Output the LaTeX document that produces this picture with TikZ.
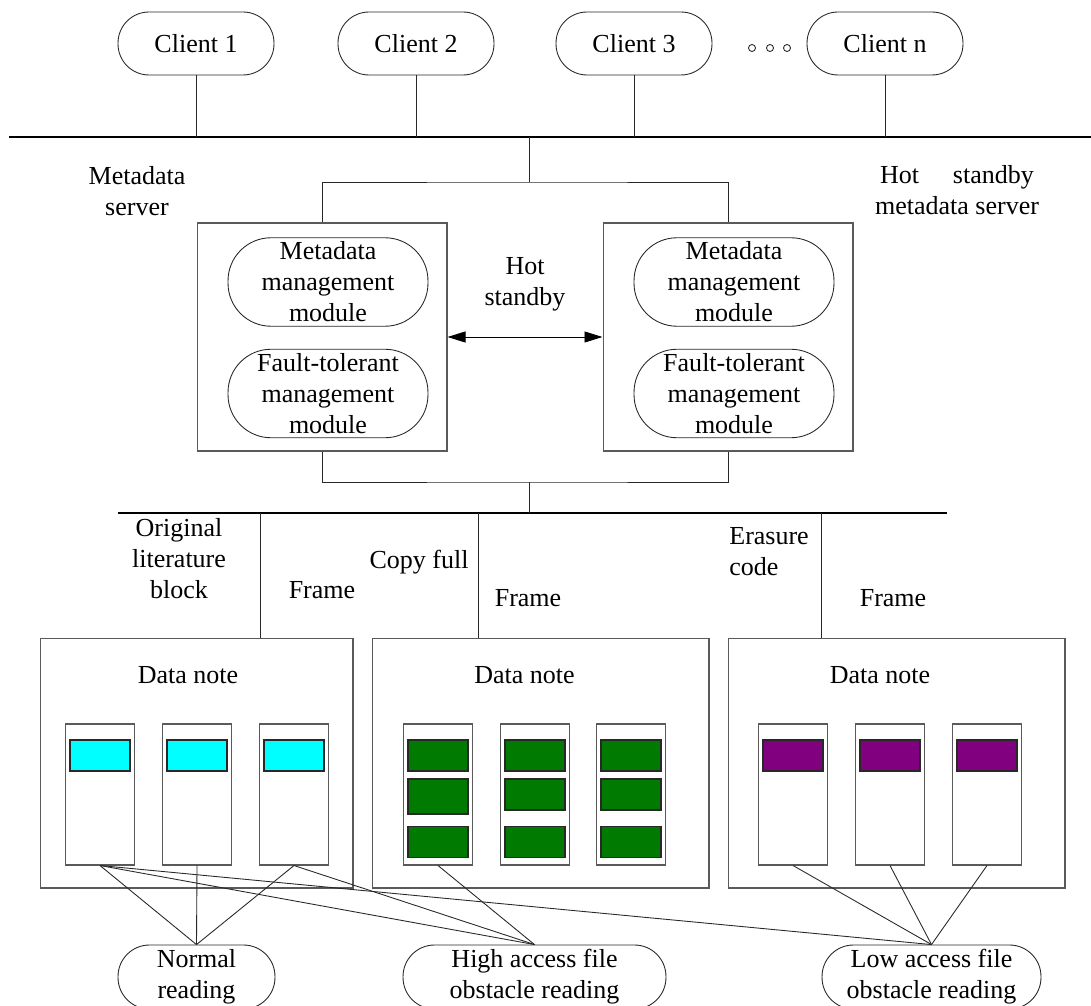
\documentclass[tikz,border=0pt]{standalone}
\usepackage{fontspec}
\setmainfont{Liberation Serif}
\usepackage{xcolor}
\usepackage{tikz}
\usetikzlibrary{arrows.meta, positioning}
\definecolor{diskcyan}{RGB}{0,255,255}
\definecolor{diskgreen}{RGB}{0,122,0}
\definecolor{diskpurple}{RGB}{128,0,128}
\definecolor{mydark}{RGB}{40,40,40}
\definecolor{mygraybd}{RGB}{90,90,90}
\tikzset{
  pill/.style={rectangle, draw=mydark, line width=0.5pt, align=center,
    rounded corners=0.62cm, minimum width=3.12cm, minimum height=1.26cm, inner sep=0pt},
  module/.style={rectangle, draw=mydark, line width=0.5pt, align=center,
    rounded corners=0.86cm, minimum width=4cm, minimum height=1.77cm, inner sep=0pt},
  reading/.style={rectangle, draw=mydark, line width=0.5pt, align=center,
    rounded corners=0.63cm, minimum height=1.28cm, inner ysep=0pt},
  srvbox/.style={rectangle, draw=mygraybd, line width=0.6pt, minimum width=5cm, minimum height=4.56cm},
  dnbox/.style={rectangle, draw=mygraybd, line width=0.6pt, minimum height=5cm},
  disk/.style={rectangle, draw=mygraybd, fill=white, line width=0.6pt, minimum width=1.38cm, minimum height=2.82cm},
  blk/.style={rectangle, draw=mydark, line width=0.6pt, minimum width=1.2cm, minimum height=0.62cm},
  lbl/.style={align=center, inner sep=0pt},
  line/.style={line width=0.5pt, color=mydark},
  bus/.style={line width=1.6pt, color=black},
  biarrow/.style={{Triangle[length=3.6mm,width=2.2mm]}-{Triangle[length=3.6mm,width=2.2mm]}, line width=0.5pt, color=black}
}

\begin{document}
\begin{tikzpicture}[x=0.02cm, y=-0.02cm, font=\fontsize{14.8}{17.6}\selectfont,
  dotc/.style={circle, draw=mydark, fill=white, inner sep=0pt, minimum size=4pt, line width=0.5pt}]
  \useasboundingbox (0,0) rectangle (1091,1006);
  \clip (0,0) rectangle (1091,1006);

  % Clients and top bus
  \node[pill] (c1) at (196,43.5) {Client 1};
  \node[pill] (c2) at (416,43.5) {Client 2};
  \node[pill] (c3) at (634,43.5) {Client 3};
  \node[pill] (cn) at (885,43.5) {Client n};
  \node[dotc] (dt1) at (752,48) {};
  \node[dotc] (dt2) at (770,48) {};
  \node[dotc] (dt3) at (787,48) {};
  \coordinate (busL) at (9,137);
  \coordinate (busR) at (1091,137);
  \draw[bus] (busL) -- (busR);
  \draw[line] (c1) -- (c1 |- busL);
  \draw[line] (c2) -- (c2 |- busL);
  \draw[line] (c3) -- (c3 |- busL);
  \draw[line] (cn) -- (cn |- busL);

  % Metadata servers
  \node[lbl] (msl) at (137,191) {Metadata\\server};
  \node[lbl] (hsl) at (957,190) {Hot\hspace{1.3em}standby\\metadata server};
  \node[srvbox] (ms) at (322,337) {};
  \node[srvbox] (hs) at (728,337) {};
  \node[module] (mm1) at (328,282) {Metadata\\management\\module};
  \node[module] (ft1) at (328,393.5) {Fault-tolerant\\management\\module};
  \node[module] (mm2) at (734,282) {Metadata\\management\\module};
  \node[module] (ft2) at (734,393.5) {Fault-tolerant\\management\\module};
  \node[lbl] (hot) at (525,284) {Hot\\standby};
  \draw[biarrow] (ms.east) -- (hs.west);
  \coordinate (j1) at (529,182);
  \draw[line] (j1 |- busL) -- (j1);
  \draw[line] (ms.north) |- (j1) -| (hs.north);
  \coordinate (j2) at (529,482);
  \draw[line] (ms.south) |- (j2) -| (hs.south);

  % Lower bus
  \coordinate (bus2L) at (118,513);
  \coordinate (bus2R) at (947,513);
  \draw[bus] (bus2L) -- (bus2R);
  \draw[line] (j2) -- (j2 |- bus2L);

  % Data notes
  \node[dnbox, minimum width=6.26cm] (dn1) at (196.5,763) {};
  \node[dnbox, minimum width=6.74cm] (dn2) at (540.5,763) {};
  \node[dnbox, minimum width=6.74cm] (dn3) at (896.5,763) {};
  \node[lbl] (dnl1) at (188,675) {Data note};
  \node[lbl] (dnl2) at (524.5,675) {Data note};
  \node[lbl] (dnl3) at (880,675) {Data note};
  \coordinate (f1) at (260,513);
  \coordinate (f2) at (478,513);
  \coordinate (f3) at (821,513);
  \draw[line] (f1) -- (f1 |- dn1.north);
  \draw[line] (f2) -- (f2 |- dn2.north);
  \draw[line] (f3) -- (f3 |- dn3.north);
  \node[lbl] (orig) at (179,558.5) {Original\\literature\\block};
  \node[lbl] (fr1) at (322,590.5) {Frame};
  \node[lbl] (copy) at (419,562) {Copy full};
  \node[lbl] (fr2) at (528,598.5) {Frame};
  \node[lbl, anchor=west, align=left] (eras) at (729,551.5) {Erasure\\code};
  \node[lbl] (fr3) at (893,598.5) {Frame};

  % Disks
  \node[disk] (d11) at (100,794.5) {};
  \node[disk] (d12) at (197,794.5) {};
  \node[disk] (d13) at (294,794.5) {};
  \node[disk] (d21) at (438,794.5) {};
  \node[disk] (d22) at (535,794.5) {};
  \node[disk] (d23) at (631,794.5) {};
  \node[disk] (d31) at (793,794.5) {};
  \node[disk] (d32) at (890,794.5) {};
  \node[disk] (d33) at (987,794.5) {};
  \node[blk, fill=diskcyan] (b11) at (100,755.5) {};
  \node[blk, fill=diskcyan] (b12) at (197,755.5) {};
  \node[blk, fill=diskcyan] (b13) at (294,755.5) {};
  \node[blk, fill=diskgreen] (b21a) at (438,755.5) {};
  \node[blk, fill=diskgreen, minimum height=0.7cm] (b21b) at (438,796.5) {};
  \node[blk, fill=diskgreen] (b21c) at (438,842) {};
  \node[blk, fill=diskgreen] (b22a) at (535,755.5) {};
  \node[blk, fill=diskgreen] (b22b) at (535,794.5) {};
  \node[blk, fill=diskgreen] (b22c) at (535,842) {};
  \node[blk, fill=diskgreen] (b23a) at (631,755.5) {};
  \node[blk, fill=diskgreen] (b23b) at (631,794.5) {};
  \node[blk, fill=diskgreen] (b23c) at (631,842) {};
  \node[blk, fill=diskpurple] (b31) at (793,755.5) {};
  \node[blk, fill=diskpurple] (b32) at (890,755.5) {};
  \node[blk, fill=diskpurple] (b33) at (987,755.5) {};

  % Reading modes
  \node[reading, minimum width=3.14cm] (rd1) at (196.5,977) {Normal\\reading};
  \node[reading, minimum width=5.26cm] (rd2) at (534.5,977) {High access file\\obstacle reading};
  \node[reading, minimum width=4.38cm] (rd3) at (931.5,977) {Low access file\\obstacle reading};
  \draw[line] (d11.south) -- (rd1.north);
  \draw[line] (d12.south) -- (rd1.north);
  \draw[line] (d13.south) -- (rd1.north);
  \draw[line] (d11.south) -- (rd2.north);
  \draw[line] (d13.south) -- (rd2.north);
  \draw[line] (d21.south) -- (rd2.north);
  \draw[line] (d11.south) -- (rd3.north);
  \draw[line] (d31.south) -- (rd3.north);
  \draw[line] (d32.south) -- (rd3.north);
  \draw[line] (d33.south) -- (rd3.north);
\end{tikzpicture}
\end{document}
